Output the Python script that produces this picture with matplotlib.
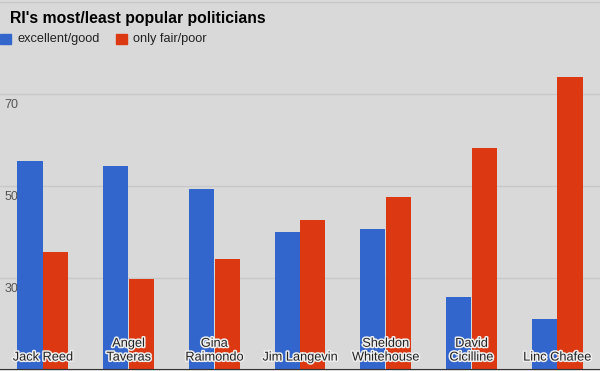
import matplotlib
matplotlib.use("Agg")
from matplotlib import pyplot as plt
import matplotlib.patheffects as pe
import numpy as np

names = ["Jack Reed", "Angel\nTaveras", "Gina\nRaimondo", "Jim Langevin",
         "Sheldon\nWhitehouse", "David\nCicilline", "Linc Chafee"]
good = [55.4, 54.3, 49.3, 40.0, 40.6, 25.9, 21.1]
poor = [35.7, 29.8, 34.2, 42.6, 47.7, 58.3, 73.8]
yticks = [30, 50, 70]

blue = '#3366cc'
red = '#dc3912'
bg = '#d9d9d9'

plt.rcParams['font.family'] = ['Liberation Sans', 'DejaVu Sans']

fig = plt.figure(figsize=(6, 3.71), dpi=100, facecolor=bg)
ax = fig.add_axes([0, 0.0027, 1, 0.9919], facecolor=bg)

x = np.arange(len(names))
w = 0.293
ax.bar(x - w/2 - 0.003, good, width=w, bottom=0, color=blue, linewidth=0, zorder=2)
ax.bar(x + w/2 + 0.003, poor, width=w, bottom=0, color=red, linewidth=0, zorder=2)

ax.set_xlim(-0.5, len(names) - 0.5)
ax.set_ylim(10, 90)
for g in [10, 30, 50, 70, 90]:
	ax.axhline(g, color='#c8c8c8', lw=1, zorder=1)
ax.axhline(10, color='#333333', lw=1.5, zorder=3)
for t in yticks:
	ax.text(0.008, t - 1.1, str(t), transform=ax.get_yaxis_transform(),
	        ha='left', va='top', fontsize=9, color='#555555', zorder=4)

for s in ax.spines.values():
	s.set_visible(False)
ax.set_xticks([])
ax.set_yticks([])

halo = [pe.withStroke(linewidth=2.2, foreground='#eeeeee')]
for i, n in enumerate(names):
	ax.text(i, 10 + 1.4, n, ha='center', va='bottom', fontsize=9.2,
	        color='#222222', linespacing=1.2, zorder=5, path_effects=halo)

fig.text(10/600, 1 - 18/371, "RI's most/least popular politicians", fontsize=11.35,
         fontweight='bold', color='#000000', va='center', ha='left')

fig.patches.append(plt.Rectangle((0, 1 - 44/371), 11/600, 10/371, color=blue,
                                 transform=fig.transFigure, figure=fig))
fig.text(18/600, 1 - 39/371, "excellent/good", fontsize=9.2, color='#222222', va='center')
fig.patches.append(plt.Rectangle((116/600, 1 - 44/371), 11/600, 10/371, color=red,
                                 transform=fig.transFigure, figure=fig))
fig.text(133/600, 1 - 39/371, "only fair/poor", fontsize=9.2, color='#222222', va='center')

fig.savefig("out.png", dpi=100, facecolor=bg)
